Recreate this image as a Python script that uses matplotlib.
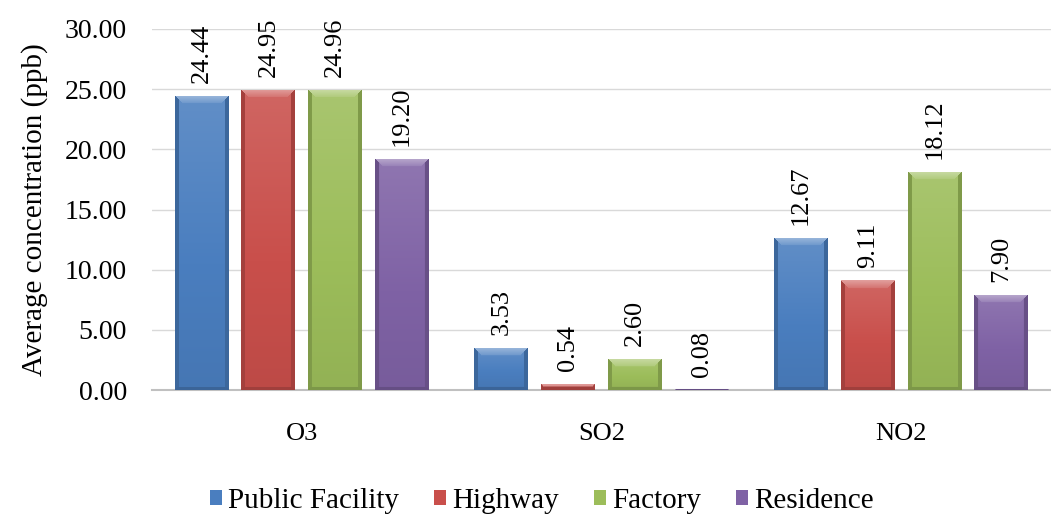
import matplotlib
matplotlib.use("Agg")
import matplotlib.pyplot as plt
from matplotlib.colors import to_rgb
from matplotlib.patches import Patch
import numpy as np

plt.rcParams["font.family"] = ["Liberation Serif", "DejaVu Serif"]

POLLUTANTS = ["O3", "SO2", "NO2"]
SITES = ["Public Facility", "Highway", "Factory", "Residence"]
PUBLIC_FACILITY = [24.44, 3.53, 12.67]
HIGHWAY = [24.95, 0.54, 9.11]
FACTORY = [24.96, 2.60, 18.12]
RESIDENCE = [19.20, 0.08, 7.90]
Y_TICKS = [0, 5, 10, 15, 20, 25, 30]

SERIES = [PUBLIC_FACILITY, HIGHWAY, FACTORY, RESIDENCE]
COLORS = ["#4a7ebf", "#c94f4b", "#9cbd5a", "#7f62a5"]

BAR_W = 0.18
STEP = 0.223
PX_X = 300.0   # pixels per category unit
PX_Y = 12.03   # pixels per ppb


def _bevel(ax, bar, color):
    x, y = bar.get_xy()
    w, h = bar.get_width(), bar.get_height()
    nx = max(int(w * PX_X), 2)
    ny = max(int(h * PX_Y), 2)
    jj, ii = np.meshgrid(np.arange(nx), np.arange(ny))
    d_top = ii
    d_bot = ny - 1 - ii
    d_side = np.minimum(jj, nx - 1 - jj)
    frac = ii / max(ny - 1, 1)
    fac = 1.08 - 0.14 * frac
    top = (d_top < 8) & (d_top <= d_side)
    side = (d_side < 4) & ~top
    bot = (d_bot < 3) & (d_bot <= d_side)
    fac = np.where(top, 1.28 - 0.02 * d_top, fac)
    fac = np.where(side, 0.82, fac)
    fac = np.where(bot, 0.80, fac)
    rgb = np.array(to_rgb(color))
    img = np.empty((ny, nx, 3))
    for k in range(3):
        c = rgb[k] * fac
        c = np.where(fac > 1, rgb[k] + (1 - rgb[k]) * (fac - 1) * 1.6, c)
        img[..., k] = np.clip(c, 0, 1)
    im = ax.imshow(img, extent=[x, x + w, y, y + h], origin="upper",
                   aspect="auto", interpolation="bilinear", zorder=3)
    im.set_clip_path(bar)


fig = plt.figure(figsize=(10.51, 5.18), dpi=100)
ax = fig.add_axes([152 / 1051, 1 - 390 / 518, 899 / 1051, 361 / 518])

xs = np.arange(len(POLLUTANTS))
offsets = (np.arange(len(SERIES)) - 1.5) * STEP
for vals, col, off, name in zip(SERIES, COLORS, offsets, SITES):
    bars = ax.bar(xs + off, vals, BAR_W, color=col, edgecolor="none",
                  zorder=2, label=name)
    for b, v in zip(bars, vals):
        _bevel(ax, b, col)
        ax.annotate(f"{v:.2f}", (b.get_x() + b.get_width() / 2, v),
                    xytext=(0, 9), textcoords="offset points",
                    rotation=90, ha="center", va="bottom", fontsize=19)

ax.set_xlim(-0.5, 2.5)
ax.set_ylim(0, 30)
ax.set_yticks(Y_TICKS)
ax.set_yticklabels([f"{t:.2f}" for t in Y_TICKS], fontsize=20)
ax.set_xticks(xs)
ax.set_xticklabels(POLLUTANTS, fontsize=19)
ax.tick_params(axis="y", length=0, pad=18)
ax.tick_params(axis="x", length=0, pad=24)
ax.grid(axis="y", color="#d9d9d9", linewidth=1, zorder=0)
ax.set_axisbelow(True)
for s in ["top", "right", "left"]:
    ax.spines[s].set_visible(False)
ax.spines["bottom"].set_color("#c0c0c0")
ax.spines["bottom"].set_linewidth(1.5)
ax.set_ylabel("Average concentration (ppb)", fontsize=21, labelpad=12)

handles = [Patch(facecolor=c, edgecolor="none") for c in COLORS]
fig.legend(handles, SITES, loc="center", bbox_to_anchor=(542 / 1051, 0.033),
           ncol=4, frameon=False, fontsize=21, handlelength=0.42,
           handleheight=0.42, handletextpad=0.2, columnspacing=1.2)

fig.savefig("out.png", dpi=100)
